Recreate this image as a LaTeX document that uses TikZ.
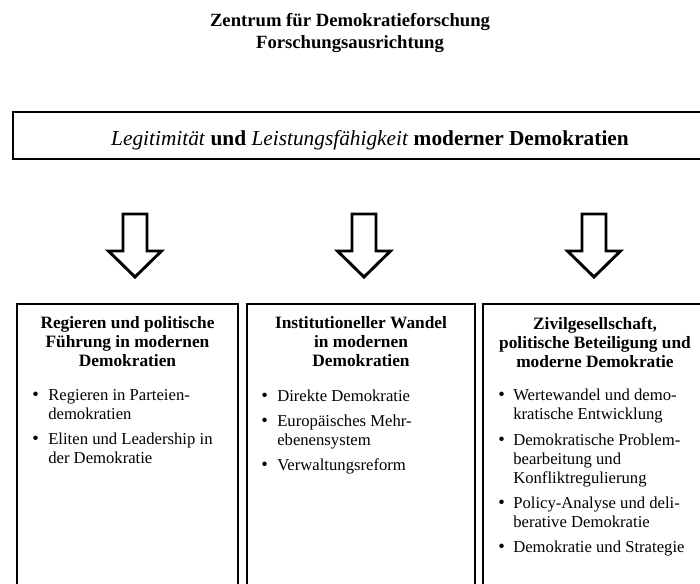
\documentclass[tikz,border=0pt]{standalone}
\usepackage{fontspec}
\setmainfont{Liberation Serif}
\usetikzlibrary{fit}
\begin{document}
\begin{tikzpicture}[x=0.75pt,y=-0.75pt,
  frame/.style={draw=black, line width=1.4pt, inner sep=0pt},
  blockarrow/.style={draw=black, fill=white, line width=2.2pt, line join=miter},
  titletext/.style={font=\fontsize{14}{16.5}\selectfont\bfseries, align=center, inner sep=0pt},
  maintext/.style={font=\fontsize{16}{19}\selectfont, inner sep=0pt},
  headtext/.style={font=\fontsize{13}{14.25}\selectfont\bfseries, align=center, inner sep=0pt},
  line/.style={font=\fontsize{12.5}{14.25}\selectfont, anchor=mid west, inner sep=0pt},
  dot/.style={font=\fontsize{14}{14.25}\selectfont, anchor=mid west, inner sep=0pt}]
\useasboundingbox (0,0) rectangle (700,583);
\clip (0,0) rectangle (700,583);

% title
\node[titletext] (title) at (350,33) {Zentrum für Demokratieforschung\\Forschungsausrichtung};

% top box
\node[frame, fit={(13,112) (727,159)}] (top) {};
\node[maintext] (toptext) at ([yshift=-3.5pt]top.center) {\textit{Legitimität} \textbf{und} \textit{Leistungsfähigkeit} \textbf{moderner Demokratien}};

% arrows
\foreach \cx/\nm in {135/a1,364/a2,594/a3}{
  \draw[blockarrow] (\cx-12,214) coordinate (\nm) -- (\cx+12,214) -- (\cx+12,251) -- (\cx+26.5,251) -- (\cx,277) -- (\cx-26.5,251) -- (\cx-12,251) -- cycle;
}

% lower boxes
\node[frame, fit={(17,304) (238,610)}] (b1) {};
\node[frame, fit={(247,304) (475,610)}] (b2) {};
\node[frame, fit={(483,304) (707,610)}] (b3) {};

% box 1
\node[headtext] (h1) at (127.5,342) {Regieren und politische\\Führung in modernen\\Demokratien};
\node[dot] (d11) at (32,397) {•};
\node[line] (l11) at (48,397) {Regieren in Parteien-};
\node[line] (l12) at (48,416) {demokratien};
\node[dot] (d12) at (32,441) {•};
\node[line] (l13) at (48,441) {Eliten und Leadership in};
\node[line] (l14) at (48,460) {der Demokratie};

% box 2
\node[headtext] (h2) at (361,342) {Institutioneller Wandel\\in modernen\\Demokratien};
\node[dot] (d21) at (261,398) {•};
\node[line] (l21) at (277,398) {Direkte Demokratie};
\node[dot] (d22) at (261,423) {•};
\node[line] (l22) at (277,423) {Europäisches Mehr-};
\node[line] (l23) at (277,442) {ebenensystem};
\node[dot] (d23) at (261,467) {•};
\node[line] (l24) at (277,467) {Verwaltungsreform};

% box 3
\node[headtext] (h3) at (595,342) {Zivilgesellschaft,\\politische Beteiligung und\\moderne Demokratie};
\node[dot] (d31) at (498,397) {•};
\node[line] (l31) at (513,397) {Wertewandel und demo-};
\node[line] (l32) at (513,416) {kratische Entwicklung};
\node[dot] (d32) at (498,442) {•};
\node[line] (l33) at (513,442) {Demokratische Problem-};
\node[line] (l34) at (513,461) {bearbeitung und};
\node[line] (l35) at (513,480) {Konfliktregulierung};
\node[dot] (d33) at (498,505) {•};
\node[line] (l36) at (513,505) {Policy-Analyse und deli-};
\node[line] (l37) at (513,524) {berative Demokratie};
\node[dot] (d34) at (498,549) {•};
\node[line] (l38) at (513,549) {Demokratie und Strategie};
\end{tikzpicture}
\end{document}
